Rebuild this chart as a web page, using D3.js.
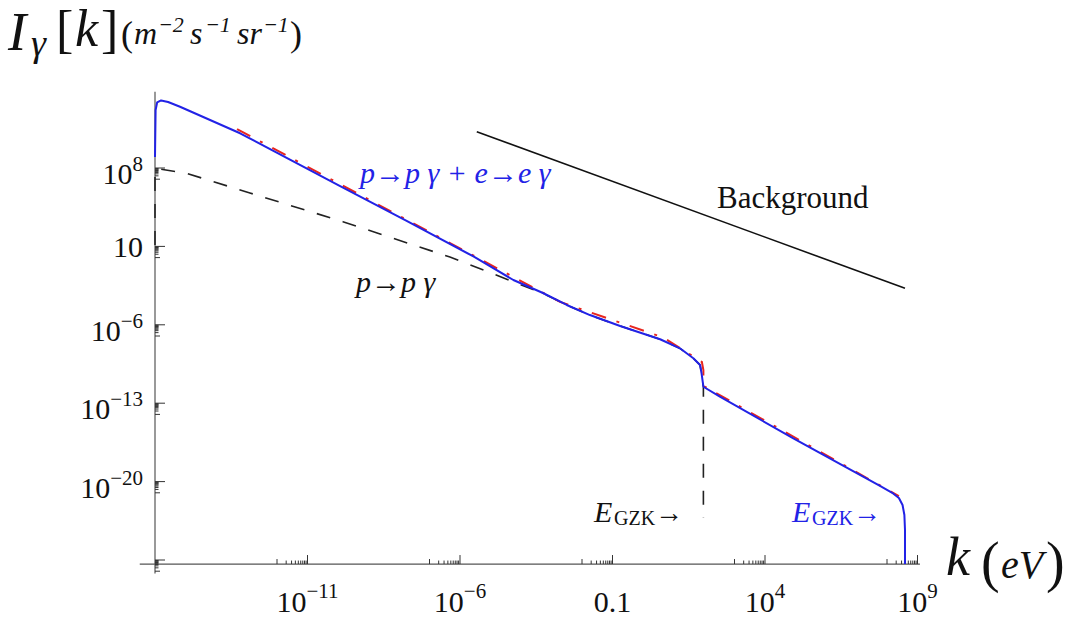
<!DOCTYPE html>
<html><head><meta charset="utf-8">
<script src="https://cdn.jsdelivr.net/npm/d3@7"></script>
<style>
body{margin:0;background:#fff}
svg{display:block}
text{font-family:"Liberation Serif","Times New Roman",serif}
</style>
</head><body>
<svg id="c" width="1067" height="623"></svg>
<script>
// ---- data (log10 of k in eV, log10 of I in m^-2 s^-1 sr^-1) ----
const totalLogK = [-16.00,-15.98,-15.93,-15.80,-15.57,-15.18,-13.21,-9.93,-7.75,-5.56,-4.25,-3.28,-2.50,-1.74,-0.75,0.56,1.21,1.65,1.87,1.92,1.98,2.52,4.93,7.77,8.20,8.39,8.51,8.57,8.59,8.59];
const totalLogI = [8.98,13.18,13.85,14.03,13.89,13.47,11.10,6.39,3.27,0.10,-2.00,-3.16,-4.23,-5.13,-6.11,-7.29,-8.10,-8.99,-9.59,-10.33,-11.53,-12.42,-16.13,-20.39,-21.06,-21.46,-22.09,-22.98,-24.32,-27.36];

const approxLogK = [-13.31,-2.72,0.66,1.93,1.98,1.98,8.39];
const approxLogI = [11.48,-3.96,-7.13,-9.32,-10.04,-11.46,-21.29];

const protonLogK = [-16.00,-16.00,-15.97,-15.84,-14.95,-12.89,-9.84,-6.33,-3.28,-2.50,-1.74,-0.75,0.56,1.21,1.65,1.87,1.92,1.98,1.98];
const protonLogI = [1.13,7.64,7.87,7.91,7.51,5.77,3.21,0.05,-3.19,-4.23,-5.13,-6.11,-7.29,-8.10,-8.99,-9.59,-10.33,-11.53,-23.25];

const backgroundLogK = [-5.45,8.59];
const backgroundLogI = [11.24,-2.74];

const xTickExp = [-11,-6,-1,4,9];
const xTickBase = ["10","10","0.1","10","10"];
const xTickSup = ["\u221211","\u22126","","4","9"];

const yTickExp = [8,1,-6,-13,-20,-27];
const yTickBase = ["10","10","10","10","10",""];
const yTickSup = ["8","","\u22126","\u221213","\u221220",""];

// ---- scales ----
const svg = d3.select("#c");
const x = d3.scaleLog().domain([1e-16, 1e9]).range([155, 917.5]);
const y = d3.scaleLog().domain([1e-20, 1e8]).range([481.6, 168]);
const P = e => Math.pow(10, e);

const xOrigin = P(-16), yOrigin = P(-27.36);
const axisCol = "#555";

// axes lines
svg.append("line").attr("x1", x(P(-16.5))).attr("x2", x(P(9.08)))
  .attr("y1", y(yOrigin)).attr("y2", y(yOrigin)).attr("stroke", axisCol).attr("stroke-width", 1.2);
svg.append("line").attr("x1", x(xOrigin)).attr("x2", x(xOrigin))
  .attr("y1", y(P(-28.2))).attr("y2", y(P(14.8))).attr("stroke", axisCol).attr("stroke-width", 1.2);

// x ticks
const xt = svg.append("g").attr("stroke", "#333").attr("stroke-width", 1);
xTickExp.forEach(e => {
  const y0 = y(yOrigin);
  xt.append("line").attr("x1", x(P(e))).attr("x2", x(P(e))).attr("y1", y0).attr("y2", y0 - 9);
  xt.append("line").attr("x1", x(P(e-1))).attr("x2", x(P(e-1))).attr("y1", y0).attr("y2", y0 - 5);
  for (let m = 2; m <= 9; m++) {
    const v = m * P(e-1);
    xt.append("line").attr("x1", x(v)).attr("x2", x(v)).attr("y1", y0).attr("y2", y0 - 3.5);
  }
});
// y ticks
const yt = svg.append("g").attr("stroke", "#333").attr("stroke-width", 1);
yTickExp.forEach(e => {
  const x0 = x(xOrigin);
  yt.append("line").attr("x1", x0).attr("x2", x0 + 10).attr("y1", y(P(e))).attr("y2", y(P(e)));
  yt.append("line").attr("x1", x0).attr("x2", x0 + 5).attr("y1", y(P(e-1))).attr("y2", y(P(e-1)));
  for (let m = 2; m <= 9; m++) {
    const v = m * P(e-1);
    yt.append("line").attr("x1", x0).attr("x2", x0 + 3.5).attr("y1", y(v)).attr("y2", y(v));
  }
});

// tick labels
xTickExp.forEach((e, i) => {
  const t = svg.append("text").attr("x", x(P(e))).attr("y", 611.5)
    .attr("text-anchor", "middle").attr("font-size", 30).attr("fill", "#111");
  t.append("tspan").text(xTickBase[i]);
  if (xTickSup[i]) t.append("tspan").attr("dy", -14).attr("font-size", 21).text(xTickSup[i]);
});
yTickExp.forEach((e, i) => {
  if (!yTickBase[i]) return;
  const hasSup = !!yTickSup[i];
  const t = svg.append("text").attr("x", 143).attr("y", y(P(e)) + (hasSup ? 16 : 10.5))
    .attr("text-anchor", "end").attr("font-size", 30).attr("fill", "#111");
  t.append("tspan").text(yTickBase[i]);
  if (hasSup) t.append("tspan").attr("dy", -13).attr("font-size", 21).text(yTickSup[i]);
});

// ---- curves ----
const line = d3.line().x(d => x(P(d[0]))).y(d => y(P(d[1])));
const zipS = (a, b) => a.map((v, i) => [v, b[i]]);

svg.append("path").datum(zipS(backgroundLogK, backgroundLogI)).attr("d", line)
  .attr("fill", "none").attr("stroke", "#111").attr("stroke-width", 1.6);

svg.append("path").datum(zipS(protonLogK, protonLogI)).attr("d", line)
  .attr("fill", "none").attr("stroke", "#222").attr("stroke-width", 1.6)
  .attr("stroke-dasharray", "14,13");

svg.append("path").datum(zipS(approxLogK, approxLogI)).attr("d", line)
  .attr("fill", "none").attr("stroke", "#e8261e").attr("stroke-width", 2)
  .attr("stroke-dasharray", "15,11,3,11");

svg.append("path").datum(zipS(totalLogK, totalLogI)).attr("d", line)
  .attr("fill", "none").attr("stroke", "#2222e6").attr("stroke-width", 2)
  .attr("stroke-linejoin", "round");

// ---- annotations ----
const blue = "#2222e6";
svg.append("text").attr("x", 360).attr("y", 183).attr("font-size", 30).attr("font-style", "italic")
  .attr("fill", blue).text("p\u2192p \u03b3 + e\u2192e \u03b3");
svg.append("text").attr("x", 356).attr("y", 292).attr("font-size", 30).attr("font-style", "italic")
  .attr("fill", "#111").text("p\u2192p \u03b3");
svg.append("text").attr("x", 717).attr("y", 208).attr("font-size", 31)
  .attr("fill", "#111").text("Background");

// multi-part text helper: parts = [x, y, size, text, italic]
function multi(parts, col) {
  const t = svg.append("text").attr("fill", col);
  parts.forEach(p => t.append("tspan").attr("x", p[0]).attr("y", p[1]).attr("font-size", p[2])
    .attr("font-style", p[4] ? "italic" : "normal").text(p[3]));
  return t;
}
function egzk(x0, col) {
  multi([[x0, 522, 30, "E", true], [x0 + 20, 525, 20, "GZK", false], [x0 + 61, 522, 28, "\u2192", false]], col);
}
egzk(594, "#111");
egzk(792, blue);

// y-axis title
multi([
  [8, 49.5, 55, "I", true],
  [31, 56, 38, "\u03b3", true],
  [56, 47, 52, "[", false],
  [75, 46, 52, "k", true],
  [101, 47, 52, "]", false],
  [121, 46, 36, "(", false],
  [134, 44, 32, "m", true],
  [158, 32, 22, "\u22122", true],
  [190, 44, 32, "s", true],
  [205, 32, 22, "\u22121", true],
  [237, 44, 32, "sr", true],
  [263, 32, 22, "\u22121", true],
  [290, 46, 36, ")", false]
], "#111");

// x-axis title
multi([
  [946, 575, 54, "k", true],
  [981, 581, 56, "(", false],
  [1001, 578, 40, "eV", true],
  [1046, 581, 56, ")", false]
], "#111");
</script>
</body></html>
